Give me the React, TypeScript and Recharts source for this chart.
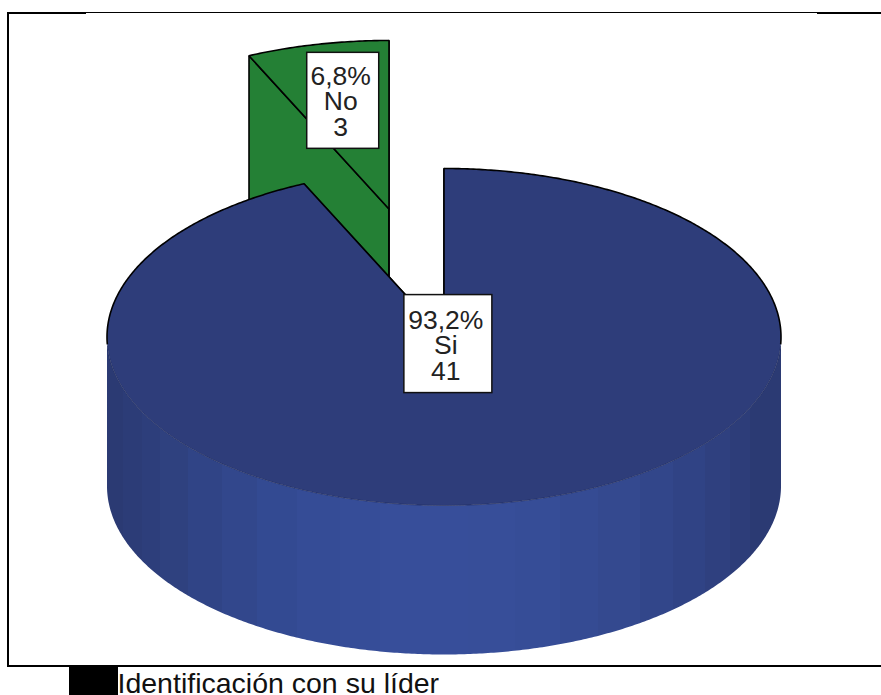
import React from "react";
import { PieChart, Pie } from "recharts";

// Drawn back-to-front: the exploded "No" slice sits behind "Si".
const categories = ["No", "Si"];
const counts = [3, 41];
const legendTitle = "Identificación con su líder";

const chartData = categories.map((name, i) => ({ name, value: counts[i] }));
const total = counts.reduce((a, b) => a + b, 0);
const START_ANGLE = 90 + (360 * counts[0]) / total;

const WIDTH = 881;
const HEIGHT = 695;
const CX = 444;
const CY = 337;
const RADIUS = 337;
const TILT = 0.5;
const DEPTH = 149;
const FONT = "'Liberation Sans', Arial, sans-serif";

const EXPLODE: Record<string, [number, number]> = { No: [-55, -128], Si: [0, 0] };
const TOP_FILL: Record<string, string> = { No: "#248035", Si: "#2e3d7a" };
const LABEL_FRACTION: Record<string, number> = { No: 0.66, Si: 0.04 };
const LABEL_BOX: Record<string, { w: number; h: number; dx: number; dy: number }> = {
  No: { w: 72, h: 96, dx: 0, dy: 0 },
  Si: { w: 88, h: 98, dx: 0, dy: 0 },
};

const bandEdges = [107, 123, 142, 160, 188, 222, 257, 297, 340, 380, 468, 515, 560, 598, 640, 673, 705, 730, 750, 781];
const bandColors = ["#2b3a73", "#2c3c77", "#2d3e7b", "#2f417f", "#304486", "#32478c", "#334a92", "#354c96", "#364d98", "#374e9a", "#374e99", "#364d97", "#354b93", "#34498f", "#32468a", "#304385", "#2f407f", "#2d3d79", "#2b3a73"];

const rad = (a: number) => (a * Math.PI) / 180;

function SliceShape(props: any) {
  const { cx, cy, outerRadius, startAngle, endAngle } = props;
  const name: string = props.name ?? props.payload?.name;
  const [ox, oy] = EXPLODE[name] ?? [0, 0];
  const px = cx + ox;
  const py = cy + oy;
  const pt = (a: number, dz = 0): [number, number] => [
    px + outerRadius * Math.cos(rad(a)),
    py - outerRadius * TILT * Math.sin(rad(a)) + dz,
  ];
  const samples: number[] = [];
  const dir = endAngle < startAngle ? -1 : 1;
  for (let a = startAngle; dir * (a - endAngle) < 0; a += dir * 0.5) samples.push(a);
  samples.push(endAngle);

  const toPath = (pts: [number, number][]) =>
    pts.map((p, i) => `${i ? "L" : "M"}${p[0].toFixed(2)} ${p[1].toFixed(2)}`).join(" ");

  const frontAngles = samples.filter((a) => Math.sin(rad(a)) <= 0);
  const sidePath = frontAngles.length
    ? toPath([...frontAngles.map((a) => pt(a)), ...[...frontAngles].reverse().map((a) => pt(a, DEPTH))]) + " Z"
    : "";

  const runs = (test: (a: number) => boolean) => {
    const out: [number, number][][] = [];
    let cur: [number, number][] = [];
    for (const a of samples) {
      if (test(a)) cur.push(pt(a));
      else if (cur.length) {
        out.push(cur);
        cur = [];
      }
    }
    if (cur.length) out.push(cur);
    return out;
  };
  const backRuns = runs((a) => Math.sin(rad(a)) >= -0.05);
  const frontRuns = runs((a) => Math.sin(rad(a)) < -0.05);

  const fill = TOP_FILL[name];
  const centre: [number, number] = [px, py];
  const topPath = toPath([centre, ...samples.map((a) => pt(a))]) + " Z";
  const s = pt(startAngle);
  const e = pt(endAngle);
  const cutFace = (p: [number, number]) =>
    toPath([p, centre, [centre[0], centre[1] + DEPTH], [p[0], p[1] + DEPTH]]) + " Z";

  return (
    <g>
      <path d={cutFace(s)} fill={fill} stroke="#000" strokeWidth={1.6} strokeLinejoin="round" />
      <path d={cutFace(e)} fill={fill} stroke="#000" strokeWidth={1.6} strokeLinejoin="round" />
      {sidePath && <path d={sidePath} fill="url(#sideBands)" stroke="none" />}
      <path d={topPath} fill={fill} stroke="none" />
      {frontRuns.map((r, i) => (
        <path key={`f${i}`} d={toPath(r)} fill="none" stroke="#18224f" strokeOpacity={0.75} strokeWidth={0.7} />
      ))}
      {backRuns.map((r, i) => (
        <path key={`b${i}`} d={toPath(r)} fill="none" stroke="#000" strokeWidth={1.6} />
      ))}
      <path d={toPath([s, centre, e])} fill="none" stroke="#000" strokeWidth={1.6} strokeLinejoin="round" />
    </g>
  );
}

function SliceLabel(props: any) {
  const { cx, cy, outerRadius, midAngle, percent, value } = props;
  const name: string = props.name ?? props.payload?.name;
  const [ox, oy] = EXPLODE[name] ?? [0, 0];
  const f = LABEL_FRACTION[name] ?? 0.5;
  const box = LABEL_BOX[name];
  const x = cx + ox + outerRadius * f * Math.cos(rad(midAngle));
  const y = cy + oy - outerRadius * TILT * f * Math.sin(rad(midAngle));
  const lines = [`${(percent * 100).toFixed(1).replace(".", ",")}%`, name, String(value)];
  const baselines = [-15, 10, 36];
  return (
    <g>
      <rect
        x={x - box.w / 2 + box.dx + 1}
        y={y - box.h / 2}
        width={box.w}
        height={box.h}
        fill="#fff"
        stroke="#111"
        strokeWidth={1.5}
      />
      {lines.map((t, i) => (
        <text key={i} x={x - 1} y={y + baselines[i]} textAnchor="middle" fontFamily={FONT} fontSize={26.5} fill="#222">
          {t}
        </text>
      ))}
    </g>
  );
}

export default function App() {
  return (
    <div style={{ position: "absolute", left: 0, top: 0, width: WIDTH, height: HEIGHT, overflow: "hidden", background: "#fff" }}>
      <PieChart width={WIDTH} height={HEIGHT} margin={{ top: 0, right: 0, bottom: 0, left: 0 }}>
        <defs>
          <linearGradient id="sideBands" gradientUnits="userSpaceOnUse" x1={107} x2={781} y1={0} y2={0}>
            {bandColors.flatMap((c, i) => {
              const a = (bandEdges[i] - 107) / 674;
              const b = (bandEdges[i + 1] - 107) / 674;
              return [
                <stop key={`a${i}`} offset={a} stopColor={c} />,
                <stop key={`b${i}`} offset={b} stopColor={c} />,
              ];
            })}
          </linearGradient>
        </defs>
        <rect x={7} y={12} width={2} height={654} fill="#000" />
        <rect x={7} y={12} width={79} height={2} fill="#000" />
        <rect x={86} y={12} width={731} height={1} fill="#000" />
        <rect x={817} y={12} width={64} height={2} fill="#000" />
        <rect x={7} y={665} width={874} height={2} fill="#000" />
        <rect x={69} y={667} width={49} height={28} fill="#000" />
        <text x={117.5} y={693} fontFamily={FONT} fontSize={28.5} fill="#111">
          {legendTitle}
        </text>
        <Pie
          data={chartData}
          dataKey="value"
          nameKey="name"
          cx={CX}
          cy={CY}
          innerRadius={0}
          outerRadius={RADIUS}
          startAngle={START_ANGLE}
          endAngle={START_ANGLE - 360}
          paddingAngle={0}
          isAnimationActive={false}
          shape={SliceShape}
          label={SliceLabel}
          labelLine={false}
        />
      </PieChart>
    </div>
  );
}
